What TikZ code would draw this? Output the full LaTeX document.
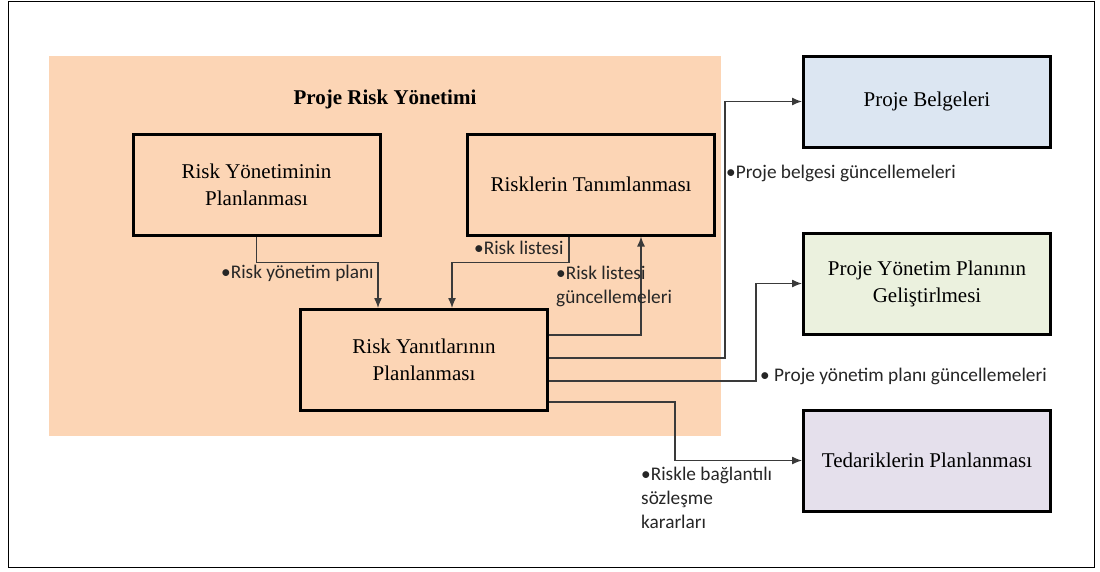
\documentclass[tikz,border=0pt]{standalone}
\usepackage{fontspec}
\setmainfont{Liberation Serif}
\newfontfamily\lblfont{Carlito}
\usepackage{tikz}
\usetikzlibrary{arrows.meta}
\usetikzlibrary{positioning}
\definecolor{riskorange}{HTML}{FCD5B5}
\definecolor{docblue}{HTML}{DCE6F2}
\definecolor{plangreen}{HTML}{EBF1DE}
\definecolor{buypurple}{HTML}{E5E0EC}
\definecolor{linegray}{HTML}{3A3A3A}
\begin{document}
\begin{tikzpicture}[x=1pt,y=-1pt]
  \tikzset{
    procbox/.style={draw=black,line width=3pt,minimum width=247pt,minimum height=101pt,
      align=center,font=\fontsize{21}{27}\selectfont},
    conn/.style={draw=linegray,line width=1.3pt,-{Latex[length=10pt,width=8pt]}},
    lbl/.style={font=\lblfont\fontsize{19.3}{24}\selectfont,inner sep=0pt,align=left,text=black!85},
  }
  \useasboundingbox (0,0) rectangle (1100,571);
  %FRAME
  \draw[black,line width=1pt] (8,1) rectangle (1094,567);
  %BACKGROUND
  \fill[riskorange] (49,56) rectangle (721,436);
  %TITLE
  \node[font=\bfseries\fontsize{21}{25}\selectfont] (title) at (385,99) {Proje Risk Yönetimi};

  %BOXES INSIDE
  \node[procbox] (plan) at (256.5,184.5) {Risk Yönetiminin\\Planlanması};
  \node[procbox] (ident) at (591,184.5) {Risklerin Tanımlanması};
  \node[procbox] (resp) at (424,360) {Risk Yanıtlarının\\Planlanması};
  %BOXES OUTSIDE
  \node[procbox,fill=docblue,minimum height=91pt] (docs) at (927,101.5) {Proje Belgeleri};
  \node[procbox,fill=plangreen] (pmp) at (927,283.5) {Proje Yönetim Planının\\Geliştirlmesi};
  \node[procbox,fill=buypurple] (proc) at (927,460.5) {Tedariklerin Planlanması};

  %ARROWS
  \draw[conn] (plan.south) -- ++(0,26) -| ([xshift=-46pt]resp.north);
  \draw[conn] ([xshift=-22pt]ident.south) -- ++(0,26) -| ([xshift=28pt]resp.north);
  \draw[conn] ([yshift=25pt]resp.east) -| ([xshift=50pt]ident.south);
  \draw[conn] ([yshift=2pt]resp.east) -- ++(176,0) |- (docs.west);
  \draw[conn] ([yshift=-21pt]resp.east) -- ++(207,0) |- (pmp.west);
  \draw[conn] ([yshift=-42pt]resp.east) -- ++(126,0) |- (proc.west);

  %LABELS
  \node[lbl,anchor=west] (l1) at (221,273) {•Risk yönetim planı};
  \node[lbl,anchor=west] (l2) at (474,248) {•Risk listesi};
  \node[lbl,anchor=north west] (l3) at (556,266) {•Risk listesi\\güncellemeleri};
  \node[lbl,anchor=west] (l4) at (726,173) {•Proje belgesi güncellemeleri};
  \node[lbl,anchor=west] (l5) at (760,376) {• Proje yönetim planı güncellemeleri};
  \node[lbl,anchor=north west] (l6) at (641,467) {•Riskle bağlantılı\\sözleşme\\kararları};
\end{tikzpicture}
\end{document}
